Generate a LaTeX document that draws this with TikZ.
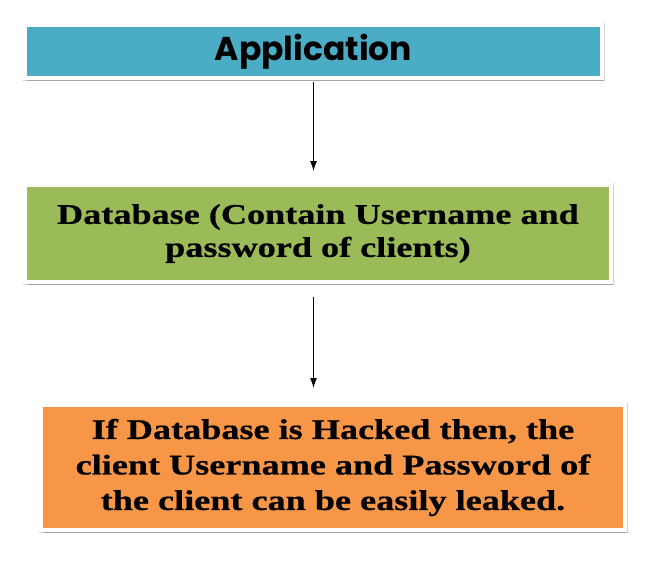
\documentclass[tikz,border=0pt]{standalone}
\usepackage{fontspec}
\usetikzlibrary{arrows.meta,shadows}
\newfontfamily\popfont{Poppins}
\newfontfamily\serifbf{Liberation Serif}[FakeStretch=1.27,FakeBold=0.6]
\definecolor{aquaF}{HTML}{4BACC6}
\definecolor{greenF}{HTML}{9BBB59}
\definecolor{orangeF}{HTML}{F79646}
\tikzset{
  box/.style={preaction={draw=black!18, line width=5pt},
    draw=white, line width=4pt, inner sep=0pt, align=center, text=black,
    drop shadow={shadow xshift=2pt, shadow yshift=-3pt, fill=black!35, opacity=1}},
  conn/.style={-{Latex[length=10pt,width=7pt]}, line width=1.1pt, black}
}
\begin{document}
\begin{tikzpicture}[x=1pt,y=-1pt]
\useasboundingbox (0,0) rectangle (667,560);
\node[box, fill=aquaF, minimum width=577pt, minimum height=53pt,
  font=\popfont\bfseries\fontsize{33}{36}\selectfont] (app) at (313.5,51.5) {Application};
\node[box, fill=greenF, minimum width=586pt, minimum height=97pt,
  font=\serifbf\bfseries\fontsize{28.5}{33}\selectfont] (db) at (318,233.5)
  {Database (Contain Username and\\password of clients)};
\node[box, fill=orangeF, minimum width=584pt, minimum height=125pt,
  font=\serifbf\bfseries\fontsize{28.5}{35.5}\selectfont] (leak) at (333,467.5)
  {If Database is Hacked then, the\\client Username and Password of\\the client can be easily leaked.};
\draw[conn, shorten <=2pt, shorten >=12pt] (app.south) -- (app.south |- db.north);
\draw[conn, shorten <=13pt, shorten >=15pt] (db.south -| app.south) -- (app.south |- leak.north);
\end{tikzpicture}
\end{document}
